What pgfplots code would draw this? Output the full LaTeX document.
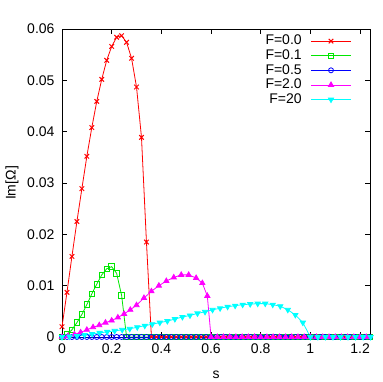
\documentclass[border=0pt]{standalone}
\usepackage{fontspec}
\setmainfont{Liberation Sans}
\usepackage{pgfplots}
\pgfplotsset{compat=1.18}
\definecolor{gred}{RGB}{255,0,0}
\definecolor{ggreen}{RGB}{0,230,0}
\definecolor{gblue}{RGB}{0,0,255}
\definecolor{gmag}{RGB}{255,0,255}
\definecolor{gcyan}{RGB}{0,255,255}
\begin{document}
\begin{tikzpicture}[font=\fontsize{14}{16}\selectfont]
\path[use as bounding box] (0,0) rectangle (382pt,382pt);
\begin{axis}[
  at={(62pt,45pt)}, anchor=south west,
  scale only axis, width=308pt, height=308pt,
  xmin=0, xmax=1.24, ymin=0, ymax=0.06,
  xtick={0,0.2,0.4,0.6,0.8,1,1.2},
  ytick={0,0.01,0.02,0.03,0.04,0.05,0.06},
  scaled y ticks=false, scaled x ticks=false,
  /pgf/number format/assume math mode=true,
  yticklabel style={/pgf/number format/fixed,/pgf/number format/precision=2, xshift=-4pt},
  xticklabel style={/pgf/number format/fixed, yshift=-3pt},
  tick align=inside, major tick length=5pt,
  tick style={black, line width=0.6pt},
  axis line style={line width=0.8pt},
  clip=false,
  xlabel={s}, ylabel={Im[Ω]},
  xlabel style={at={(axis description cs:0.5,-0.123)}, anchor=center},
  ylabel style={at={(axis description cs:-0.162,0.5)}, anchor=center, rotate=0},
  legend cell align=right,
  legend plot pos=right,
  legend style={at={(rel axis cs:0.94,0.985)}, anchor=north east, draw=none, fill=none,
    inner sep=0pt, row sep=0pt, column sep=8pt,
    nodes={inner sep=1pt, text height=10pt, text depth=2.6pt}},
  legend image code/.code={\draw[mark repeat=2,mark phase=2,#1] plot coordinates {(0cm,0cm) (0.7cm,0cm) (1.4cm,0cm)};},
  every axis plot/.append style={line width=0.8pt},
]
\addplot[gred, mark=x, mark size=3.2pt, mark options={line width=1pt}] coordinates {
(0,0.0020) (0.02,0.0087) (0.04,0.0157) (0.06,0.0225) (0.08,0.0289) (0.10,0.0352)
(0.12,0.0408) (0.14,0.0459) (0.16,0.0502) (0.18,0.0539) (0.20,0.0566) (0.22,0.0584)
(0.24,0.0587) (0.26,0.0574) (0.28,0.0543) (0.30,0.0487) (0.32,0.0389) (0.34,0.0185)
(0.36,0) (0.38,0) (0.40,0) (0.42,0) (0.44,0) (0.46,0) (0.48,0) (0.50,0) (0.52,0)
(0.54,0) (0.56,0) (0.58,0) (0.60,0) (0.62,0) (0.64,0) (0.66,0) (0.68,0) (0.70,0)
(0.72,0) (0.74,0) (0.76,0) (0.78,0) (0.80,0) (0.82,0) (0.84,0) (0.86,0) (0.88,0)
(0.90,0) (0.92,0) (0.94,0) (0.96,0) (0.98,0) (1.00,0) (1.02,0) (1.04,0) (1.06,0)
(1.08,0) (1.10,0) (1.12,0) (1.14,0) (1.16,0) (1.18,0) (1.20,0) (1.22,0) (1.24,0)
};
\addlegendentry{F=0.0}
\addplot[ggreen, mark=square, mark size=2.8pt] coordinates {
(0,0) (0.02,0.0005) (0.04,0.0014) (0.06,0.0028) (0.08,0.0044) (0.10,0.0063)
(0.12,0.0084) (0.14,0.0103) (0.16,0.0121) (0.18,0.0133) (0.20,0.0137) (0.22,0.0124)
(0.24,0.0081) (0.26,0) (0.28,0) (0.30,0) (0.32,0) (0.34,0) (0.36,0) (0.38,0)
(0.40,0) (0.42,0) (0.44,0) (0.46,0) (0.48,0) (0.50,0) (0.52,0)
(0.54,0) (0.56,0) (0.58,0) (0.60,0) (0.62,0) (0.64,0) (0.66,0) (0.68,0) (0.70,0)
(0.72,0) (0.74,0) (0.76,0) (0.78,0) (0.80,0) (0.82,0) (0.84,0) (0.86,0) (0.88,0)
(0.90,0) (0.92,0) (0.94,0) (0.96,0) (0.98,0) (1.00,0) (1.02,0) (1.04,0) (1.06,0)
(1.08,0) (1.10,0) (1.12,0) (1.14,0) (1.16,0) (1.18,0) (1.20,0) (1.22,0) (1.24,0)
};
\addlegendentry{F=0.1}
\addplot[gblue, mark=o, mark size=2.5pt] coordinates {
(0,0) (0.02,0) (0.04,0) (0.06,0) (0.08,0) (0.10,0) (0.12,0) (0.14,0) (0.16,0)
(0.18,0) (0.20,0) (0.22,0) (0.24,0) (0.26,0) (0.28,0) (0.30,0) (0.32,0) (0.34,0)
(0.36,0) (0.38,0) (0.40,0) (0.42,0) (0.44,0) (0.46,0) (0.48,0) (0.50,0) (0.52,0)
(0.54,0) (0.56,0) (0.58,0) (0.60,0) (0.62,0) (0.64,0) (0.66,0) (0.68,0) (0.70,0)
(0.72,0) (0.74,0) (0.76,0) (0.78,0) (0.80,0) (0.82,0) (0.84,0) (0.86,0) (0.88,0)
(0.90,0) (0.92,0) (0.94,0) (0.96,0) (0.98,0) (1.00,0) (1.02,0) (1.04,0) (1.06,0)
(1.08,0) (1.10,0) (1.12,0) (1.14,0) (1.16,0) (1.18,0) (1.20,0) (1.22,0) (1.24,0)
};
\addlegendentry{F=0.5}
\addplot[gmag, mark=triangle*, mark size=3pt] coordinates {
(0,0) (0.025,0.0002) (0.05,0.0005) (0.075,0.0009) (0.10,0.0014) (0.125,0.0019)
(0.15,0.0023) (0.175,0.0028) (0.20,0.0032) (0.225,0.0038) (0.25,0.0045)
(0.275,0.0053) (0.30,0.0062) (0.33,0.0076) (0.36,0.0089) (0.39,0.0100)
(0.42,0.0109) (0.45,0.0116) (0.48,0.0121) (0.51,0.0121) (0.54,0.0115)
(0.565,0.0105) (0.585,0.0080) (0.60,0)
(0.625,0) (0.65,0) (0.675,0) (0.70,0) (0.725,0) (0.75,0) (0.775,0) (0.80,0)
(0.825,0) (0.85,0) (0.875,0) (0.90,0) (0.925,0) (0.95,0) (0.975,0) (1.00,0)
(1.025,0) (1.05,0) (1.075,0) (1.10,0) (1.125,0) (1.15,0) (1.175,0) (1.20,0) (1.225,0)
};
\addlegendentry{F=2.0}
\addplot[gcyan, mark=triangle*, mark size=3pt, mark options={rotate=180}] coordinates {
(0,0) (0.0303,0.0001) (0.0606,0.0002) (0.0909,0.0004) (0.1212,0.0006) (0.1515,0.0008)
(0.1818,0.0010) (0.2121,0.0012) (0.2424,0.0014) (0.2727,0.0016) (0.3030,0.0019)
(0.3333,0.0022) (0.3636,0.0025) (0.3939,0.0028) (0.4242,0.0031) (0.4545,0.0035)
(0.4848,0.0039) (0.5152,0.0042) (0.5455,0.0046) (0.5758,0.0049) (0.6061,0.0053)
(0.6364,0.0056) (0.6667,0.0059) (0.6970,0.0061) (0.7273,0.0063) (0.7576,0.0064)
(0.7879,0.0065) (0.8182,0.0065) (0.8485,0.0063) (0.8788,0.0060) (0.9091,0.0053)
(0.9394,0.0043) (0.9697,0.0028) (1.0,0) (1.0303,0) (1.0606,0) (1.0909,0)
(1.1212,0) (1.1515,0) (1.1818,0) (1.2121,0) (1.2424,0)
};
\addlegendentry{F=20}
\end{axis}
\end{tikzpicture}
\end{document}
